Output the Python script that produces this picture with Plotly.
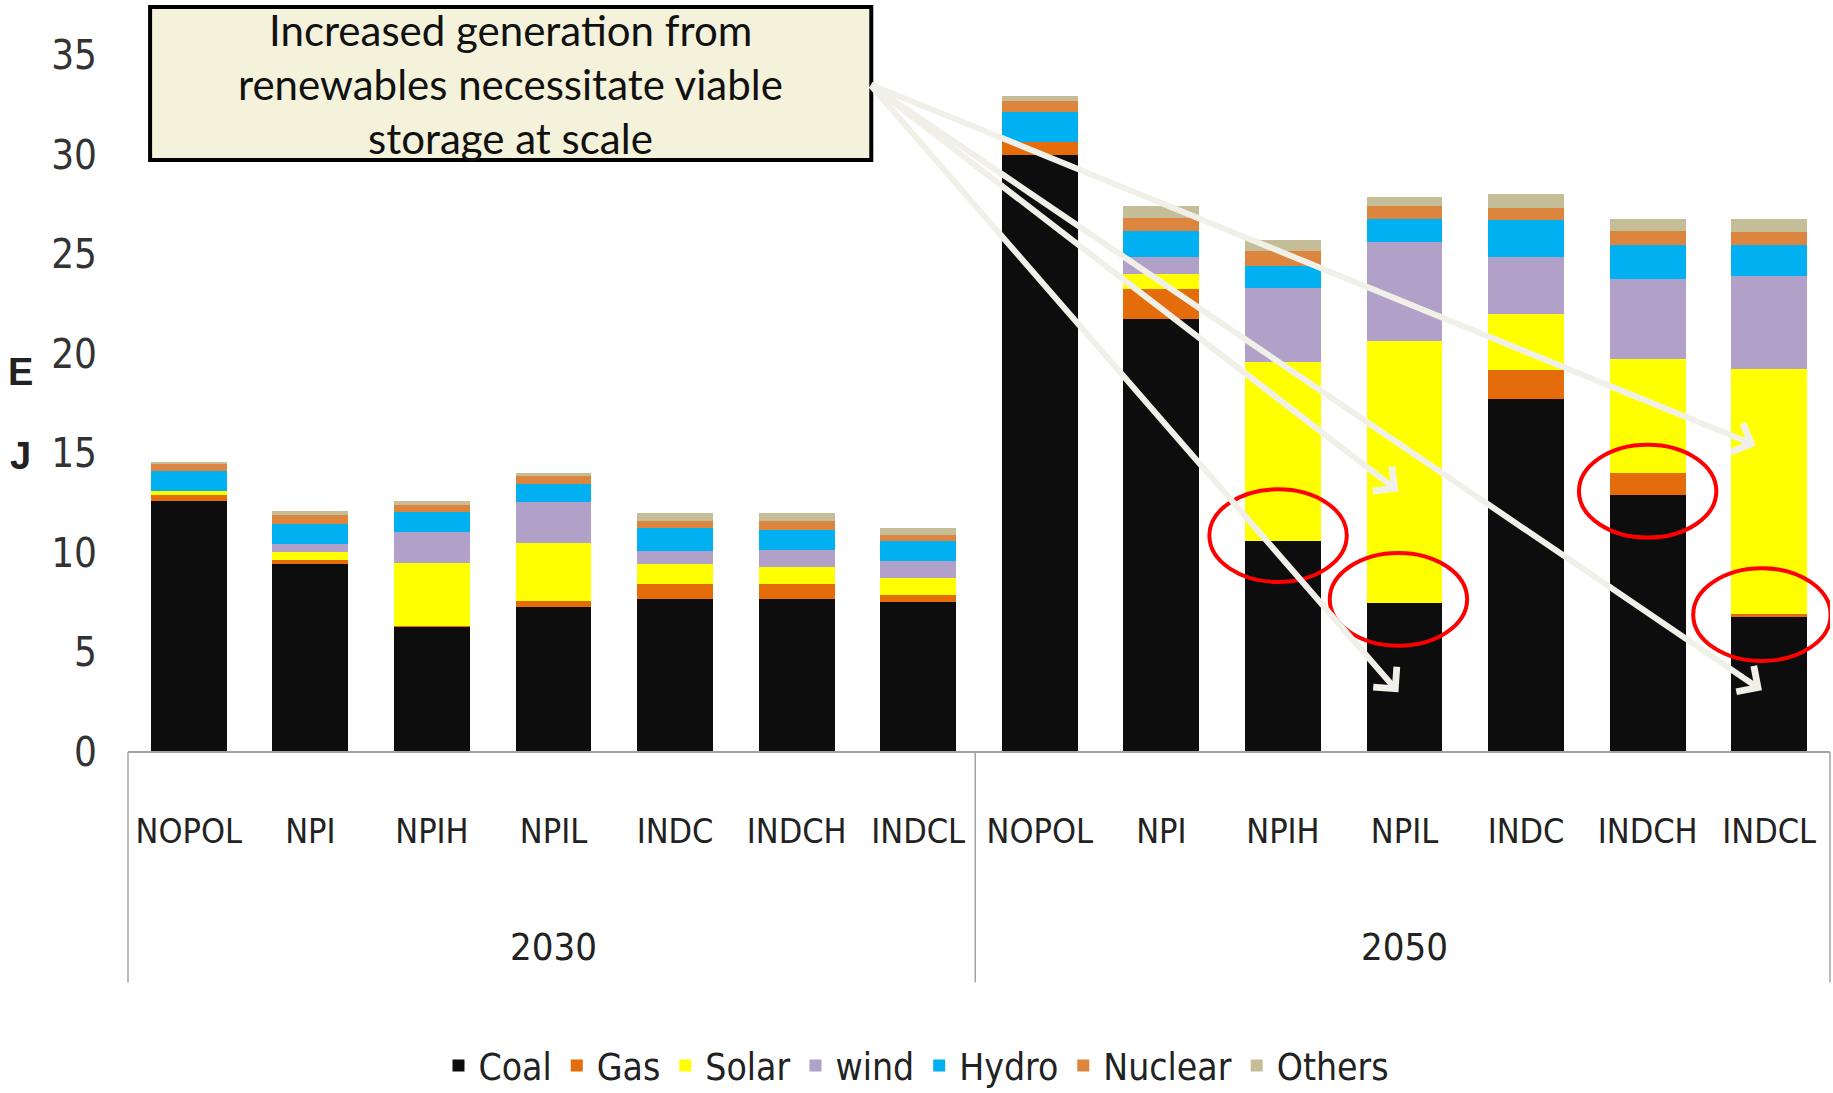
import plotly.graph_objects as go

# ---------------- data ----------------
scenarios = ["NOPOL", "NPI", "NPIH", "NPIL", "INDC", "INDCH", "INDCL"]
years = ["2030", "2050"]
categories = scenarios + scenarios

coal    = [12.6, 9.45, 6.3, 7.3, 7.7, 7.7, 7.55,   30.0, 21.75, 10.6, 7.5, 17.75, 12.9, 6.8]
gas     = [0.3, 0.17, 0.05, 0.28, 0.72, 0.72, 0.33, 0.65, 1.53, 0.0, 0.0, 1.43, 1.12, 0.12]
solar   = [0.22, 0.45, 3.15, 2.9, 1.0, 0.87, 0.87,  0.0, 0.72, 9.0, 13.16, 2.84, 5.72, 12.3]
wind    = [0.0, 0.39, 1.54, 2.09, 0.70, 0.84, 0.84, 0.0, 0.85, 3.7, 4.96, 2.86, 4.0, 4.69]
hydro   = [1.0, 1.0, 1.0, 0.87, 1.14, 1.04, 1.0,    1.52, 1.31, 1.13, 1.13, 1.86, 1.71, 1.58]
nuclear = [0.35, 0.45, 0.38, 0.47, 0.34, 0.42, 0.3, 0.54, 0.65, 0.72, 0.67, 0.58, 0.71, 0.61]
others  = [0.1, 0.22, 0.17, 0.08, 0.40, 0.42, 0.37, 0.26, 0.61, 0.59, 0.48, 0.69, 0.59, 0.65]

series_names = ["Coal", "Gas", "Solar", "wind", "Hydro", "Nuclear", "Others"]
series_values = [coal, gas, solar, wind, hydro, nuclear, others]
series_colors = ["#0d0d0d", "#e46c0a", "#ffff00", "#b1a0c7", "#00b0f0", "#dc853e", "#c4bd97"]

y_ticks = [0, 5, 10, 15, 20, 25, 30, 35]

box_text = ["Increased generation from", "renewables necessitate viable", "storage at scale"]

# arrow heads (category index, value) and ellipses (category index, value)
arrow_tail = (5.6, 33.55)
arrow_heads = [(12.89, 15.4), (9.95, 13.1), (9.95, 3.0), (12.94, 3.1)]
ellipses = [(8.96, 10.87), (9.95, 7.67), (12.0, 13.1), (12.94, 6.9)]

# ---------------- layout geometry ----------------
W, H = 1833, 1093
L, R = 127.5, 1830.0
T, B = 0.0, 751.7
PW, PH = R - L, B - T
px_per_unit = 19.9
y_max = (B - T) / px_per_unit

NARROW = "Liberation Sans Narrow, Arial Narrow, DejaVu Sans Condensed, Liberation Sans, sans-serif"


def px_x(px):
    return (px - L) / PW


def px_y(py):
    return (B - py) / PH


x_idx = list(range(len(categories)))

fig = go.Figure()
for name, vals, col in zip(series_names, series_values, series_colors):
    fig.add_trace(go.Bar(
        x=x_idx, y=vals, name=name,
        marker=dict(color=col, line=dict(width=0)),
        hoverinfo="x+y+name",
    ))

shapes = []
axis_grey = "#a3a3a3"
# category axis box
shapes.append(dict(type="line", xref="paper", yref="paper", x0=0, x1=1, y0=0, y1=0,
                   line=dict(color=axis_grey, width=2)))
for xp in [0, px_x(975), 1]:
    shapes.append(dict(type="line", xref="paper", yref="paper", x0=xp, x1=xp,
                       y0=0, y1=px_y(982), line=dict(color=axis_grey, width=1.5)))

# red ellipses
rx, ry = 0.565, 2.33
for cx, cy in ellipses:
    shapes.append(dict(type="circle", xref="x", yref="y", x0=cx - rx, x1=cx + rx,
                       y0=cy - ry, y1=cy + ry, line=dict(color="#ff0000", width=4),
                       fillcolor="rgba(0,0,0,0)", layer="above"))

# annotation box
shapes.append(dict(type="rect", xref="paper", yref="paper",
                   x0=px_x(149.6), x1=px_x(871), y0=px_y(160), y1=px_y(7),
                   fillcolor="#f5f2dc", line=dict(color="#000000", width=4), layer="above"))

annotations = []
for txt, py in zip(box_text, [30, 84, 138]):
    annotations.append(dict(text=txt, xref="paper", yref="paper", x=px_x(510), y=px_y(py),
                            xanchor="center", yanchor="middle", showarrow=False,
                            font=dict(family="Lato, Open Sans, sans-serif", size=42, color="#111111")))

for hx, hy in arrow_heads:
    annotations.append(dict(text="", x=hx, y=hy, xref="x", yref="y",
                            ax=arrow_tail[0], ay=arrow_tail[1], axref="x", ayref="y",
                            showarrow=True, arrowhead=4, arrowsize=1.0, arrowwidth=6,
                            arrowcolor="#f1f0e8", standoff=0))

# group labels
for yr, cx in zip(years, [3, 10]):
    annotations.append(dict(text=yr, xref="x", yref="paper", x=cx, y=px_y(947),
                            xanchor="center", yanchor="middle", showarrow=False,
                            font=dict(family=NARROW, size=38, color="#222222")))

# y axis title letters
for letter, py in [("E", 372), ("J", 456)]:
    annotations.append(dict(text="<b>" + letter + "</b>", xref="paper", yref="paper",
                            x=px_x(20), y=px_y(py), xanchor="center", yanchor="middle",
                            showarrow=False,
                            font=dict(family="Liberation Sans, sans-serif", size=38, color="#222222")))

fig.update_layout(
    width=W, height=H,
    margin=dict(l=L, r=W - R, t=T, b=H - B, pad=0),
    barmode="stack",
    bargap=0.375,
    plot_bgcolor="white",
    paper_bgcolor="white",
    font=dict(family=NARROW, size=38, color="#222222"),
    shapes=shapes,
    annotations=annotations,
    showlegend=True,
    legend=dict(orientation="h", xref="container", yref="container", x=0.5, y=(H - 1066) / H,
                xanchor="center", yanchor="middle", font=dict(family=NARROW, size=37, color="#222222"),
                itemwidth=30, traceorder="normal"),
    xaxis=dict(range=[-0.5, len(categories) - 0.5], tickmode="array", tickvals=x_idx,
               ticktext=categories, showgrid=False, zeroline=False, showline=False,
               ticks="", ticklabelstandoff=56, tickfont=dict(family=NARROW, size=34, color="#222222")),
    yaxis=dict(range=[0, y_max], tickmode="array", tickvals=y_ticks, showgrid=False,
               zeroline=False, showline=False, ticks="", ticklabelstandoff=30,
               tickfont=dict(family=NARROW, size=40, color="#333333")),
)

fig.write_html("out.html", config={"displayModeBar": False},
               post_script="document.body.style.margin='0';document.body.style.overflow='hidden';")
